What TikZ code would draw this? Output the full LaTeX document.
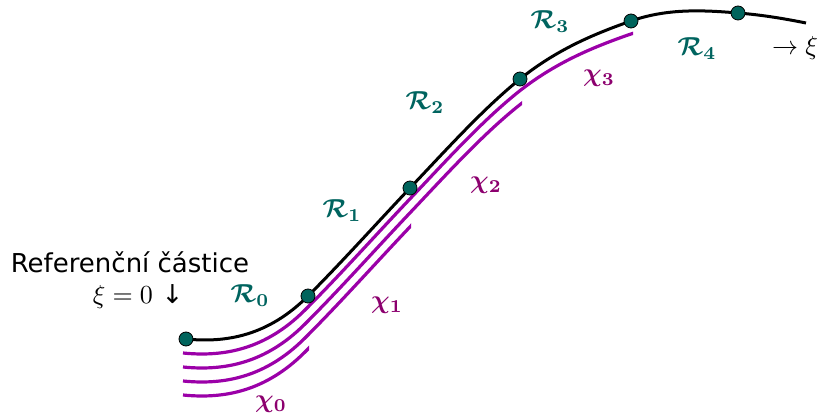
\documentclass[tikz,border=0pt]{standalone}
\usepackage{amsmath,bm}
\usepackage{fontspec}
\newfontfamily\dejavu{DejaVu Sans}
\definecolor{tealdot}{RGB}{0,100,92}
\definecolor{teallab}{RGB}{0,100,95}
\definecolor{purcurve}{RGB}{155,0,168}
\definecolor{purlab}{RGB}{140,0,110}
\tikzset{
  mainc/.style={line width=3pt, black},
  purc/.style={line width=3.2pt, purcurve},
  dotnode/.style={circle, fill=tealdot, draw=black, line width=0.8pt, minimum size=14pt, inner sep=0pt},
  rlab/.style={text=teallab, inner sep=0pt, scale=2.6},
  clab/.style={text=purlab, inner sep=0pt, scale=2.6},
  txt/.style={inner sep=0pt},
}
\newcommand{\curvepath}{(186,339) .. controls (226,343) and (268,336) .. (308,296)
  .. controls (342,262) and (376,224) .. (410,188)
  .. controls (447,149) and (483,109) .. (520,79)
  .. controls (557,49.4) and (594,34) .. (631,21)
  .. controls (667,8.4) and (702,10) .. (738,13)
  .. controls (761,14.8) and (783,18.4) .. (806,23)}
\begin{document}
\begin{tikzpicture}[x=1pt,y=-1pt]
\useasboundingbox (0,0) rectangle (821,414);
% purple curves (shifted copies, truncated)
\foreach \k/\xe in {1/633,2/522,3/411,4/309}{
  \begin{scope}
    \clip (0,0) rectangle (\xe,414);
    \draw[purc, shift={(-3,14*\k)}] \curvepath;
  \end{scope}
}
% black curve
\draw[mainc] \curvepath;
% dots
\node[dotnode] (d0) at (186,339) {};
\node[dotnode] (d1) at (308,296) {};
\node[dotnode] (d2) at (410,188) {};
\node[dotnode] (d3) at (520,79) {};
\node[dotnode] (d4) at (631,21) {};
\node[dotnode] (d5) at (738,13) {};
% labels
\node[rlab] (r0) at (250,296) {$\bm{\mathcal{R}_0}$};
\node[rlab] (r1) at (342,211) {$\bm{\mathcal{R}_1}$};
\node[rlab] (r2) at (425,103) {$\bm{\mathcal{R}_2}$};
\node[rlab] (r3) at (550,22) {$\bm{\mathcal{R}_3}$};
\node[rlab] (r4) at (697,49) {$\bm{\mathcal{R}_4}$};
\node[clab] (c0) at (271,404) {$\bm{\chi_0}$};
\node[clab] (c1) at (387,305) {$\bm{\chi_1}$};
\node[clab] (c2) at (486,185) {$\bm{\chi_2}$};
\node[clab] (c3) at (599,78) {$\bm{\chi_3}$};
\node[txt, scale=2.6, font=\dejavu] (ref) at (130,262) {Referenční částice};
\node[txt, anchor=east, scale=2.6] (xi0) at (184,297) {$\xi=0$ {\dejavu ↓}};
\node[txt, scale=2.6] (xiarr) at (795,48) {$\to\xi$};
\end{tikzpicture}
\end{document}
